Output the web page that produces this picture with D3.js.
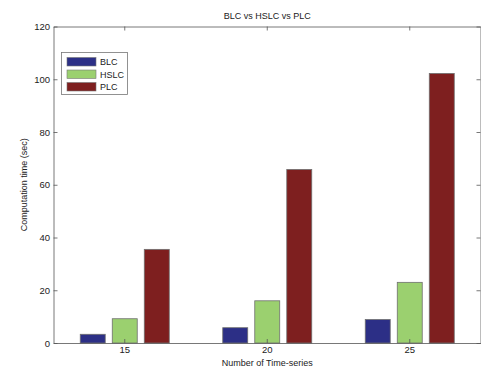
<!DOCTYPE html>
<html>
<head>
<meta charset="utf-8">
<script src="https://cdn.jsdelivr.net/npm/d3@7"></script>
<style>
  html, body { margin: 0; padding: 0; background: #fff; }
  svg { display: block; font-family: "Liberation Sans", Arial, sans-serif; }
</style>
</head>
<body>
<svg id="chart" width="481" height="368"></svg>
<script>
// Computation time per method and number of time-series
const categories = ["15", "20", "25"];
const seriesNames = ["BLC", "HSLC", "PLC"];
const blcValues = [3.3, 5.8, 8.9];
const hslcValues = [9.2, 16.0, 23.0];
const plcValues = [35.5, 65.8, 102.2];
const yTicks = [0, 20, 40, 60, 80, 100, 120];
const seriesColors = ["#2c2f86", "#9bd06f", "#7e1f1f"];

const seriesValues = [blcValues, hslcValues, plcValues];

const svg = d3.select("#chart");
const m = { left: 53.5, right: 481, top: 26.5, bottom: 343 };

const x = d3.scaleBand().domain(categories).range([m.left, m.right]).padding(0);
const bw = x.bandwidth();
const xs = d3.scaleBand().domain(seriesNames)
  .range([bw * 0.163, bw * 0.837]).paddingInner(0.22).paddingOuter(0.11);
const y = d3.scaleLinear().domain([0, 120]).range([m.bottom, m.top]);

// Bars
const groups = svg.append("g").selectAll("g")
  .data(categories)
  .join("g")
  .attr("transform", d => `translate(${x(d)},0)`);

groups.selectAll("rect")
  .data((d, i) => seriesNames.map((s, j) => ({ s, j, v: seriesValues[j][i] })))
  .join("rect")
  .attr("x", d => xs(d.s))
  .attr("width", xs.bandwidth())
  .attr("y", d => y(d.v))
  .attr("height", d => y(0) - y(d.v))
  .attr("fill", d => seriesColors[d.j])
  .attr("stroke", "#6f6f6f")
  .attr("stroke-width", 0.8);

// Axes (ticks drawn inward)
const axisColor = "#555";
const yAxis = svg.append("g")
  .attr("transform", `translate(${m.left},0)`)
  .call(d3.axisLeft(y).tickValues(yTicks).tickSizeInner(-4).tickSizeOuter(0).tickPadding(3.5));
const yAxisR = svg.append("g")
  .attr("transform", `translate(${m.right - 0.5},0)`)
  .call(d3.axisRight(y).tickValues(yTicks).tickSizeInner(-4).tickSizeOuter(0).tickFormat(""));
const xAxis = svg.append("g")
  .attr("transform", `translate(0,${m.bottom})`)
  .call(d3.axisBottom(x).tickSizeInner(-4).tickSizeOuter(0).tickPadding(3));
const xAxisT = svg.append("g")
  .attr("transform", `translate(0,${m.top})`)
  .call(d3.axisTop(x).tickSizeInner(-4).tickSizeOuter(0).tickFormat(""));

[yAxis, yAxisR, xAxis, xAxisT].forEach(g => {
  g.selectAll("path, line").attr("stroke", axisColor).attr("stroke-width", 0.8);
  g.selectAll("text").attr("fill", "#222").attr("font-size", 9.5)
    .attr("font-family", "Liberation Sans, Arial, sans-serif");
});

// Title and axis labels
svg.append("text")
  .attr("x", (m.left + m.right) / 2).attr("y", 19)
  .attr("text-anchor", "middle").attr("font-size", 9).attr("fill", "#222")
  .text("BLC vs HSLC vs PLC");
svg.append("text")
  .attr("x", (m.left + m.right) / 2).attr("y", 366)
  .attr("text-anchor", "middle").attr("font-size", 9).attr("fill", "#222")
  .text("Number of Time-series");
svg.append("text")
  .attr("transform", `translate(27,${(m.top + m.bottom) / 2}) rotate(-90)`)
  .attr("text-anchor", "middle").attr("font-size", 9).attr("fill", "#222")
  .text("Computation time (sec)");

// Legend
const lg = svg.append("g").attr("transform", "translate(61.5,52.5)");
lg.append("rect").attr("width", 66).attr("height", 42)
  .attr("fill", "#fff").attr("stroke", "#777").attr("stroke-width", 0.8);
const items = lg.selectAll("g.item").data(seriesNames).join("g")
  .attr("transform", (d, i) => `translate(5.5,${5 + i * 12.5})`);
items.append("rect").attr("width", 29).attr("height", 8.5)
  .attr("fill", (d, i) => seriesColors[i]).attr("stroke", "#777").attr("stroke-width", 0.6);
items.append("text").attr("x", 33).attr("y", 7.8)
  .attr("font-size", 9).attr("fill", "#222").text(d => d);
</script>
</body>
</html>
